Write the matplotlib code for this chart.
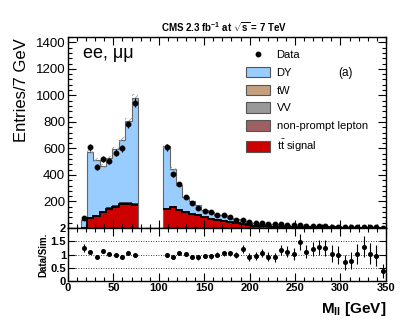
import numpy as np
import matplotlib
matplotlib.use("Agg")
import matplotlib.pyplot as plt
from matplotlib.patches import Patch
from matplotlib.lines import Line2D
from matplotlib.ticker import MultipleLocator

plt.rcParams['font.family'] = ['Liberation Sans', 'DejaVu Sans']
plt.rcParams['mathtext.fontset'] = 'custom'
plt.rcParams['mathtext.rm'] = 'Liberation Sans'
plt.rcParams['mathtext.it'] = 'Liberation Sans:italic'
plt.rcParams['mathtext.bf'] = 'Liberation Sans:bold'
plt.rcParams['hatch.linewidth'] = 0.6

# binning: 7 GeV bins, Z window removed
edges_low = np.arange(14, 78, 7)      # 14 .. 77
edges_high = np.arange(105, 351, 7)   # 105 .. 350

# --- low mass region (9 bins) ---
data_low = [73, 607, 459, 521, 506, 569, 601, 782, 946]
mc_low = [58, 576, 515, 470, 525, 595, 665, 805, 980]
sig_low = [3, 78, 93, 118, 143, 160, 183, 178, 171]
tw_low = [1, 4, 4, 5, 6, 7, 8, 8, 8]
vv_low = [0.3, 1, 1, 1.2, 1.5, 1.7, 2, 2, 2]
np_low = [1, 3, 3, 3.5, 4, 4.5, 5, 5, 5]
ratio_low = [1.24, 1.08, 0.92, 1.14, 1.01, 0.99, 0.92, 1.04, 0.99]
ratio_err_low = [0.16, 0.05, 0.05, 0.05, 0.05, 0.05, 0.05, 0.04, 0.04]

# --- high mass region (35 bins) ---
data_high = [607, 404, 331, 236, 186, 153, 128, 120, 98, 98, 80, 60, 60, 48, 40, 35,
             33, 28, 27, 23, 19, 23, 16, 15, 13, 12, 8.5, 7, 4.5, 4.5, 5.3, 6, 4.2, 3.5, 1.2]
mc_high = [615, 445, 325, 232, 200, 170, 135, 122, 100, 95, 78, 66, 56, 46, 38, 33,
           32, 28, 24, 21, 18, 16, 14, 12, 10.5, 9.5, 8.3, 7.1, 6.4, 5.8, 5.1, 4.6, 4.1, 3.7, 3.3]
sig_high = [143, 156, 135, 118, 105, 95, 80, 70, 60, 53, 43, 35, 28, 23, 17, 13,
            12, 11, 10, 9, 8, 7.2, 6.5, 5.8, 5.2, 4.7, 4.2, 3.8, 3.4, 3.1, 2.8, 2.5, 2.2, 2.0, 1.8]
tw_high = [5, 6, 5, 4.5, 4, 3.6, 3.2, 2.8, 2.5, 2.2, 2, 1.8, 1.5, 1.3, 1.1, 1, 0.9, 0.8,
           0.7, 0.6, 0.55, 0.5, 0.45, 0.4, 0.35, 0.3, 0.3, 0.25, 0.2, 0.2, 0.2, 0.15, 0.15, 0.1, 0.1]
vv_high = [2, 2, 1.8, 1.6, 1.4, 1.3, 1.2, 1.1, 1, 0.9, 0.8, 0.7, 0.6, 0.55, 0.5, 0.45, 0.4,
           0.35, 0.3, 0.3, 0.25, 0.25, 0.2, 0.2, 0.2, 0.15, 0.15, 0.15, 0.1, 0.1, 0.1, 0.1, 0.1, 0.1, 0.1]
np_high = [3, 3, 2.5, 2.2, 2, 1.8, 1.5, 1.3, 1.2, 1, 0.9, 0.8, 0.7, 0.6, 0.5, 0.45, 0.4, 0.35,
           0.3, 0.3, 0.25, 0.2, 0.2, 0.2, 0.15, 0.15, 0.1, 0.1, 0.1, 0.1, 0.1, 0.1, 0.05, 0.05, 0.05]
ratio_high = [1.00, 0.91, 1.06, 1.03, 0.89, 0.89, 0.95, 0.94, 0.99, 1.04, 1.04, 0.99, 1.20,
              0.90, 0.96, 1.06, 0.92, 0.89, 1.18, 1.11, 1.03, 1.47, 1.11, 1.22, 1.27, 1.25,
              1.03, 0.99, 0.70, 0.77, 1.03, 1.30, 1.03, 0.95, 0.38]
ratio_err_high = [0.05, 0.05, 0.06, 0.07, 0.07, 0.08, 0.08, 0.09, 0.10, 0.10, 0.11, 0.12,
                  0.14, 0.14, 0.15, 0.16, 0.16, 0.17, 0.19, 0.20, 0.22, 0.30, 0.25, 0.27,
                  0.29, 0.30, 0.32, 0.33, 0.30, 0.32, 0.38, 0.40, 0.40, 0.40, 0.25]
mc_syst_frac = 0.03

c_dy = '#99ccff'
c_tw = '#c4a080'
c_vv = '#999999'
c_np = '#9e6060'
c_sig = '#cc0000'

fig = plt.figure(figsize=(4.07, 3.28), dpi=100)
ax = fig.add_axes([0.167, 0.305, 0.781, 0.582])
rax = fig.add_axes([0.167, 0.143, 0.781, 0.162], sharex=ax)


def draw_region(edges, data, mc, sig, np_, vv, tw, ratio, rerr):
    sig = np.array(sig, float)
    layers = [(sig, c_sig), (np.array(np_, float), c_np),
              (np.array(vv, float), c_vv), (np.array(tw, float), c_tw)]
    bottom = np.zeros(len(sig))
    for vals, col in layers:
        top = bottom + vals
        ax.stairs(top, edges, baseline=bottom, fill=True, color=col, lw=0)
        ax.stairs(top, edges, baseline=None, color='#333333', lw=0.6)
        bottom = top
    mc = np.array(mc, float)
    ax.stairs(mc, edges, baseline=bottom, fill=True, color=c_dy, lw=0)
    ax.stairs(mc, edges, baseline=0, color='#666666', lw=0.8)
    ax.stairs(sig, edges, baseline=None, color='black', lw=1.3)
    # mc uncertainty band
    ax.bar(edges[:-1], 2 * mc_syst_frac * mc, bottom=mc * (1 - mc_syst_frac), width=7,
           align='edge', fill=False, hatch='//////', edgecolor='#999999', lw=0)
    centers = 0.5 * (edges[:-1] + edges[1:])
    data = np.array(data, float)
    ax.errorbar(centers, data, yerr=np.sqrt(data), fmt='o', color='black',
                ms=3.2, elinewidth=0.9, capsize=0)
    rax.errorbar(centers, ratio, yerr=rerr, fmt='o', color='black',
                 ms=2.6, elinewidth=0.8, capsize=0)


draw_region(edges_low, data_low, mc_low, sig_low, np_low, vv_low, tw_low,
            ratio_low, ratio_err_low)
draw_region(edges_high, data_high, mc_high, sig_high, np_high, vv_high, tw_high,
            ratio_high, ratio_err_high)

ax.set_xlim(0, 350)
ax.set_ylim(0, 1440)
ax.yaxis.set_major_locator(MultipleLocator(200))
ax.yaxis.set_minor_locator(MultipleLocator(40))
ax.xaxis.set_major_locator(MultipleLocator(50))
ax.xaxis.set_minor_locator(MultipleLocator(10))
ax.set_yticks([200, 400, 600, 800, 1000, 1200, 1400])
for a in (ax, rax):
    a.tick_params(which='both', direction='in', top=True, right=True, width=0.8)
    a.tick_params(which='major', length=6)
    a.tick_params(which='minor', length=3)
    for s in a.spines.values():
        s.set_linewidth(1.0)
ax.tick_params(axis='x', labelbottom=False)
ax.tick_params(axis='y', labelsize=9.5, pad=2)

rax.set_ylim(0, 2)
rax.set_yticks([0, 0.5, 1, 1.5, 2])
rax.set_yticklabels(['0', '0.5', '1', '1.5', '2'])
rax.yaxis.set_minor_locator(MultipleLocator(0.1))
rax.tick_params(axis='y', which='major', length=5)
rax.tick_params(axis='y', which='minor', length=0)
for lab in rax.get_yticklabels() + rax.get_xticklabels():
    lab.set_fontweight('bold')
rax.tick_params(axis='both', labelsize=8, pad=1.5)
for yv in (0.5, 1, 1.5):
    rax.axhline(yv, color='black', lw=0.6, ls=(0, (1, 2)))

fig.text(0.052, 1 - 38 / 328, 'Entries/7 GeV', rotation=90, ha='center', va='top', fontsize=12)
fig.text(0.106, 1 - 255 / 328, 'Data/Sim.', rotation=90, ha='center', va='center',
         fontsize=7, fontweight='bold')
fig.text(0.950, 1 - 309 / 328, r'M$_{\mathbf{ll}}$ [GeV]', ha='right', va='center',
         fontsize=11, fontweight='bold')
fig.text(0.55, 1 - 27 / 328, r'CMS 2.3 fb$^{\mathbf{-1}}$ at $\mathbf{\sqrt{s}}$ = 7 TeV',
         ha='center', va='center', fontsize=7, fontweight='bold')
ax.text(0.048, 0.915, 'ee, μμ', transform=ax.transAxes, fontsize=13, va='center')
ax.text(0.872, 0.81, '(a)', transform=ax.transAxes, fontsize=8.5, va='center', ha='center')

handles = [Line2D([], [], marker='o', ls='none', color='black', ms=3.2),
           Patch(facecolor=c_dy, edgecolor='#555555', lw=0.8),
           Patch(facecolor=c_tw, edgecolor='#555555', lw=0.8),
           Patch(facecolor=c_vv, edgecolor='#555555', lw=0.8),
           Patch(facecolor=c_np, edgecolor='#555555', lw=0.8),
           Patch(facecolor=c_sig, edgecolor='#555555', lw=0.8)]
labels = ['Data', 'DY', 'tW', 'VV', 'non-prompt lepton', r't$\bar{\mathrm{t}}$ signal']
fig.legend(handles, labels, loc='upper left', bbox_to_anchor=(246 / 407, 1 - 49 / 328),
           frameon=False, fontsize=8, handlelength=2.2, handleheight=1.1,
           labelspacing=0.6, handletextpad=0.55, borderaxespad=0, borderpad=0)

fig.savefig('out.png', dpi=100)
